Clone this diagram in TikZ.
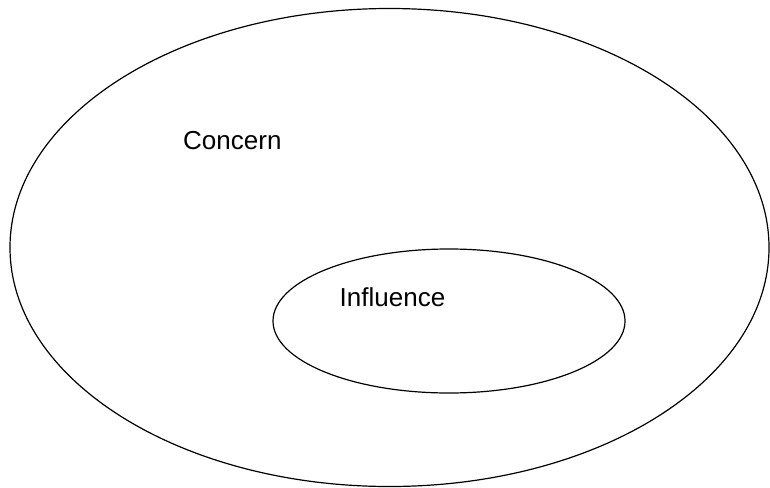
\documentclass[tikz,border=0pt]{standalone}
\usepackage{fontspec}
\setmainfont{Liberation Sans}
\begin{document}
\begin{tikzpicture}[x=1pt,y=-1pt,
  ring/.style={draw=black,line width=1.2pt},
  lbl/.style={anchor=base west,inner sep=0pt,font=\fontsize{26}{30}\selectfont}]
\useasboundingbox (0,0) rectangle (770,487);
\draw[ring] (389.5,247.5) ellipse [x radius=379.5, y radius=239];
\draw[ring] (449,321) ellipse [x radius=176, y radius=72];
\node[lbl] (concern) at (183,149) {Concern};
\node[lbl] (influence) at (339.5,306.7) {Influence};
\end{tikzpicture}
\end{document}
